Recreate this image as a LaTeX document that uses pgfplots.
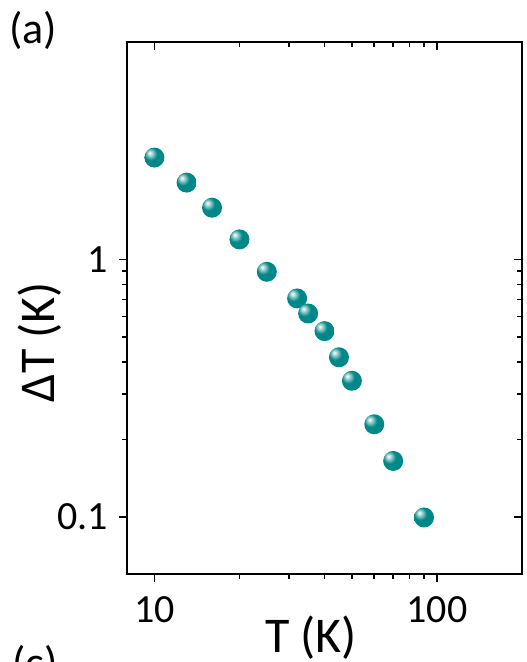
\documentclass[border=0pt]{standalone}
\usepackage{pgfplots}
\pgfplotsset{compat=1.18}
\usepackage{fontspec}
\setmainfont{Carlito}
\definecolor{ballc}{RGB}{0,135,135}
\pgfdeclareradialshading{myball}{\pgfpoint{-12bp}{12bp}}{%
  color(0bp)=(white); color(5bp)=(white!70!ballc); color(16bp)=(ballc);
  color(42bp)=(ballc); color(50bp)=(ballc!80!black); color(70bp)=(ballc!80!black)}
\pgfdeclareplotmark{myball}{%
  \pgfpathcircle{\pgfpointorigin}{\pgfplotmarksize}%
  \pgfshadepath{myball}{0}%
  \pgfusepath{discard}}
\begin{document}
\begin{tikzpicture}
\useasboundingbox (-63.5pt,-44pt) rectangle (199.5pt,287pt);
\begin{axis}[
  scale only axis, width=197.5pt, height=266pt,
  at={(0pt,0pt)}, anchor=south west,
  xmode=log, ymode=log,
  xmin=8, xmax=200, ymin=0.06, ymax=7,
  major tick length=4pt, minor tick length=2.5pt,
  every tick/.style={black, line width=0.8pt},
  axis line style={line width=0.8pt},
  /pgf/number format/assume math mode=true,
  log ticks with fixed point,
  tick align=outside,
  xtick pos=bottom, ytick pos=left,
  xtick={10,100}, ytick={0.1,1},
  ticklabel style={font=\fontsize{20pt}{20pt}\selectfont, inner sep=0pt},
  xticklabel style={anchor=base, yshift=-20.3pt},
  yticklabel style={anchor=east, xshift=-5.5pt},
  xlabel={T (K)}, ylabel={ΔT (K)},
  every axis x label/.style={at={(axis description cs:0.466,-0.1466)}, anchor=base,
    font=\fontsize{25pt}{25pt}\selectfont, inner sep=0pt},
  every axis y label/.style={at={(axis description cs:-0.1848,0.436)}, rotate=90, anchor=base,
    font=\fontsize{25pt}{25pt}\selectfont, inner sep=0pt},
]
\addplot[only marks, mark=myball, mark size=5pt]
coordinates {
(10,2.49) (13,1.99) (16,1.59) (20,1.197) (25,0.896) (32,0.706) (35,0.617)
(40,0.527) (45,0.417) (50,0.338) (60,0.229) (70,0.165) (90,0.0995)
};
\end{axis}
\begin{axis}[
  scale only axis, width=197.5pt, height=266pt,
  at={(0pt,0pt)}, anchor=south west,
  xmode=log, ymode=log,
  xmin=8, xmax=200, ymin=0.06, ymax=7,
  major tick length=4pt, minor tick length=2.5pt,
  every tick/.style={black, line width=0.8pt},
  tick align=inside,
  xtick pos=top, ytick pos=right,
  xtick={10,100}, ytick={0.1,1},
  xticklabels={}, yticklabels={},
  axis line style={draw=none},
]
\end{axis}
\node[font=\fontsize{22pt}{22pt}\selectfont] at (-47pt,272pt) {(a)};
\node[font=\fontsize{22pt}{22pt}\selectfont] at (-46pt,-45pt) {(c)};
\end{tikzpicture}
\end{document}
